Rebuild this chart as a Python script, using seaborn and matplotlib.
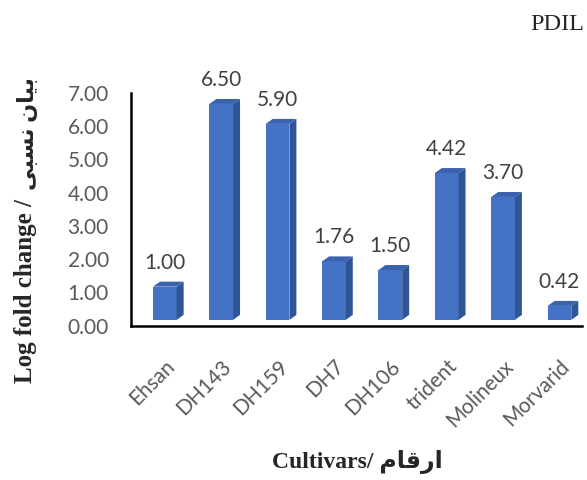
import pandas as pd
import seaborn as sns
import matplotlib.pyplot as plt
from matplotlib.patches import Polygon

# values
cultivars = ['Ehsan', 'DH143', 'DH159', 'DH7', 'DH106', 'trident', 'Molineux', 'Morvarid']
fold_change = [1.00, 6.50, 5.90, 1.76, 1.50, 4.42, 3.70, 0.42]
yticks = [0, 1, 2, 3, 4, 5, 6, 7]

# Persian text written in presentation forms (visual order), since matplotlib has no shaping
fa_expression = '\uFEF0\uFE92\uFEB4\uFEE7 \uFEE5\uFE8E\uFEF4\uFE91'   # بیان نسبی
fa_cultivars = '\uFEE1\uFE8E\uFED7\uFEAD\uFE8D'                      # ارقام

df = pd.DataFrame({'cultivar': cultivars, 'value': fold_change})

sns.set_theme(style='white')
plt.rcParams['font.family'] = ['Lato', 'DejaVu Sans']
serif_bold = ['Liberation Serif', 'DejaVu Sans']

front_col = '#4472C4'
side_col = '#2F5597'
top_col = '#3A62AE'

fig = plt.figure(figsize=(5.87, 4.8), dpi=100)
ax = fig.add_axes([131 / 587, (480 - 325.5) / 480, 451 / 587, 232.5 / 480])

sns.barplot(data=df, x='cultivar', y='value', color=front_col, saturation=1,
            width=0.42, linewidth=0, ax=ax)

# fake 3D look: lift the front a little, then add side and top faces
base = 0.17
dx, dy = 0.124, 0.15
for p, v in zip(ax.patches, fold_change):
    x0 = p.get_x()
    w = p.get_width()
    p.set_y(base)
    top = base + v
    x1 = x0 + w
    ax.add_patch(Polygon([(x1, base), (x1, top), (x1 + dx, top + dy), (x1 + dx, base + dy)],
                         closed=True, facecolor=side_col, edgecolor='none', zorder=2))
    ax.add_patch(Polygon([(x0, top), (x1, top), (x1 + dx, top + dy), (x0 + dx, top + dy)],
                         closed=True, facecolor=top_col, edgecolor='none', zorder=2))
    ax.text(x0 + w / 2, top + 0.72, f'{v:.2f}', ha='center', va='center',
            fontsize=15, color='#404040')

ax.set_xlim(-0.6, 7.4)
ax.set_ylim(0, 7)
ax.set_yticks(yticks)
ax.set_yticklabels([f'{t:.2f}' for t in yticks], fontsize=15, color='#595959')
ax.set_xticks(range(len(cultivars)))
ax.set_xticklabels(cultivars, rotation=45, ha='right', rotation_mode='anchor',
                   fontsize=15, color='#595959')
ax.tick_params(axis='y', length=0, pad=16)
ax.tick_params(axis='x', length=0, pad=22)
ax.set_xlabel('')
ax.set_ylabel('')

sns.despine(ax=ax)
for side in ['left', 'bottom']:
    ax.spines[side].set_color('black')
    ax.spines[side].set_linewidth(1.8)

# y label in two pieces so the Persian part can be a bit smaller
t_lat = fig.text(26 / 587, 1 - 383 / 480, 'Log fold change /', rotation=90,
                 ha='center', va='bottom', fontsize=18, fontweight='bold', family=serif_bold)
fig.canvas.draw()
bb = t_lat.get_window_extent(fig.canvas.get_renderer())
fig.text(28 / 587, (bb.y1 + 9) / 480, fa_expression, rotation=90,
         ha='center', va='bottom', fontsize=16, fontweight='bold', family=serif_bold)

fig.text(357 / 587, 1 - 462 / 480, 'Cultivars/ ' + fa_cultivars,
         ha='center', va='center', fontsize=17, fontweight='bold', family=serif_bold)
fig.text(584 / 587, 1 - 24 / 480, 'PDIL', ha='right', va='center',
         fontsize=17.5, family=['Liberation Serif'])

fig.savefig('out.png', dpi=100)
